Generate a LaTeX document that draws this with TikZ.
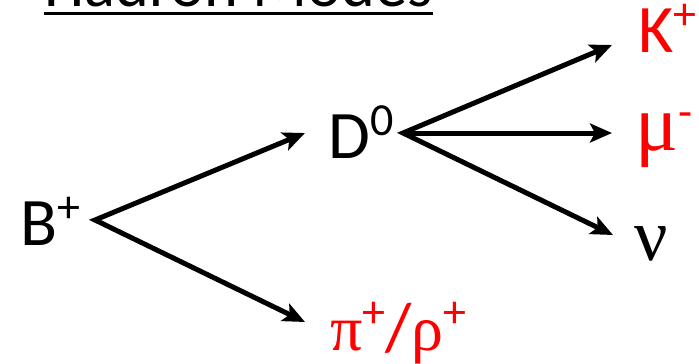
\documentclass[tikz,border=0pt]{standalone}
\usepackage{fontspec}
\setmainfont{Carlito}
\newfontfamily\greekfont{Liberation Serif}
\usetikzlibrary{arrows.meta}
\newcommand{\upidx}[1]{\raisebox{0.33em}{\fontsize{46}{48}\selectfont #1}}
\begin{document}
\begin{tikzpicture}[x=1pt, y=-1pt, >={Stealth[length=22pt,width=19pt,inset=5pt]},
    every node/.style={inner sep=0pt, anchor=base west, font=\fontsize{68}{80}\selectfont},
    decay/.style={line width=5pt, miter limit=20},
    product/.style={text=red}]
    \clip (0,0) rectangle (699,364);

    % Title, cut off at the top
    \node (title) at (44,6) {\resizebox{389pt}{!}{Hadron Modes}};
    \draw[line width=3pt] (44,13) -- (433,13);

    % Particles
    \node (B) at (20,245) {B\upidx{+}};
    \node (D) at (328,158) {D\upidx{0}};
    \node[product] (pirho) at (330,350) {{\greekfont\fontsize{64}{70}\selectfont π}\upidx{+}/{\greekfont\fontsize{64}{70}\selectfont ρ}\upidx{+}};
    \node[product] (K) at (638,52) {K\upidx{+}};
    \node[product] (mu) at (635,150) {{\greekfont\fontsize{80}{90}\selectfont μ}\upidx{-}};
    \node (nu) at (634,260) {{\greekfont\fontsize{74}{80}\selectfont ν}};

    % Vertices and arrow tips
    \coordinate (Bvtx) at (95,220);
    \coordinate (Dvtx) at (403,133);
    \coordinate (toD) at (305,133);
    \coordinate (topirho) at (305,322);
    \coordinate (toK) at (612,45);
    \coordinate (tomu) at (612,133);
    \coordinate (tonu) at (613,235);

    % Decays
    \draw[decay, <->] (toD) -- (Bvtx) -- (topirho);
    \draw[decay, <->] (toK) -- (Dvtx) -- (tonu);
    \draw[decay, ->] (Dvtx) -- (tomu);
  \end{tikzpicture}
\end{document}
